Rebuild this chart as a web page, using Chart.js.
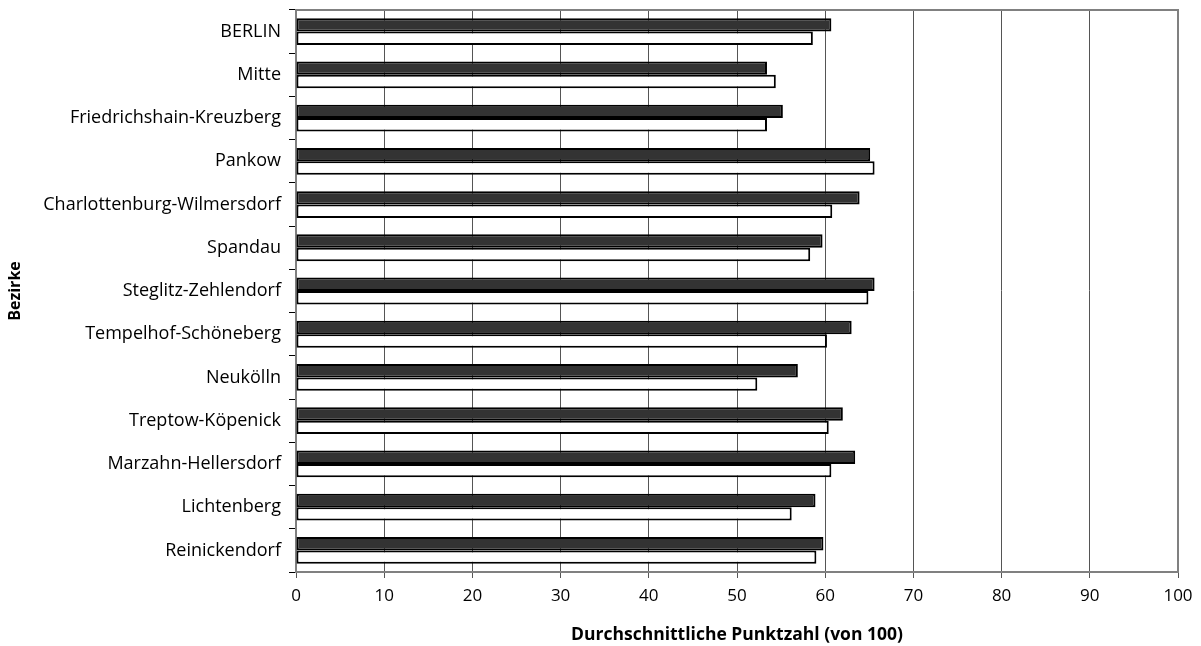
<!DOCTYPE html>
<html lang="de">
<head>
  <meta charset="UTF-8" />
  <title>Bezirke – Durchschnittliche Punktzahl</title>
  <script src="https://cdn.jsdelivr.net/npm/chart.js"></script>
  <style>
    html, body { margin: 0; padding: 0; background: #fff; }
    #wrap { width: 1201px; height: 646px; }
  </style>
</head>
<body>
  <div id="wrap"><canvas id="chart"></canvas></div>

  <script>
    const bezirke = [
      "BERLIN", "Mitte", "Friedrichshain-Kreuzberg", "Pankow",
      "Charlottenburg-Wilmersdorf", "Spandau", "Steglitz-Zehlendorf",
      "Tempelhof-Schöneberg", "Neukölln", "Treptow-Köpenick",
      "Marzahn-Hellersdorf", "Lichtenberg", "Reinickendorf"
    ];
    const serieDunkel = [60.7, 53.4, 55.2, 65.1, 63.9, 59.7, 65.6, 63.0, 56.9, 62.0, 63.4, 58.9, 59.8];
    const serieHell   = [58.6, 54.4, 53.4, 65.6, 60.8, 58.3, 64.9, 60.2, 52.3, 60.4, 60.7, 56.2, 59.0];
    const xTicks = [0, 10, 20, 30, 40, 50, 60, 70, 80, 90, 100];

    const font = "'Open Sans', 'Noto Sans', sans-serif";

    // Rahmen oben und rechts um die Zeichenfläche
    const rahmen = {
      id: "rahmen",
      afterDraw(chart) {
        const { ctx, chartArea: a } = chart;
        ctx.save();
        ctx.strokeStyle = "#808080";
        ctx.lineWidth = 2;
        ctx.beginPath();
        ctx.moveTo(a.left, a.top);
        ctx.lineTo(a.right, a.top);
        ctx.lineTo(a.right, a.bottom);
        ctx.stroke();
        ctx.restore();
      }
    };

    const ctx = document.getElementById("chart").getContext("2d");
    new Chart(ctx, {
      type: "bar",
      data: {
        labels: bezirke,
        datasets: [
          {
            label: "Reihe 1",
            data: serieDunkel,
            backgroundColor: "#333333",
            borderColor: "#000000",
            borderWidth: 2,
            borderSkipped: false
          },
          {
            label: "Reihe 2",
            data: serieHell,
            backgroundColor: "#ffffff",
            borderColor: "#000000",
            borderWidth: 2,
            borderSkipped: false
          }
        ]
      },
      options: {
        indexAxis: "y",
        responsive: true,
        maintainAspectRatio: false,
        animation: false,
        layout: { padding: { top: 10, right: 23, left: 6, bottom: 0 } },
        datasets: { bar: { categoryPercentage: 0.62, barPercentage: 1.0 } },
        plugins: {
          legend: { display: false },
          tooltip: { enabled: false }
        },
        scales: {
          x: {
            min: 0,
            max: 100,
            afterBuildTicks(scale) {
              scale.ticks = xTicks.map(v => ({ value: v }));
            },
            afterFit(scale) {
              scale.height = 74;
              scale.paddingLeft = 0;
              scale.paddingRight = 0;
            },
            grid: {
              color: "#555555",
              lineWidth: 1,
              tickLength: 6,
              drawTicks: true
            },
            border: { color: "#808080", width: 2 },
            ticks: {
              color: "#000",
              font: { family: font, size: 17 },
              padding: 8,
              maxRotation: 0
            },
            title: {
              display: true,
              text: "Durchschnittliche Punktzahl (von 100)",
              color: "#000",
              font: { family: font, size: 17.5, weight: "bold" },
              padding: { top: 8, bottom: 0 }
            }
          },
          y: {
            afterFit(scale) {
              scale.width = 290;
              scale.paddingTop = 0;
              scale.paddingBottom = 0;
            },
            grid: {
              offset: true,
              drawOnChartArea: false,
              color: "#000",
              tickLength: 7
            },
            border: { color: "#808080", width: 2 },
            ticks: {
              color: "#000",
              font: { family: font, size: 18 },
              padding: 8
            },
            title: {
              display: true,
              text: "Bezirke",
              color: "#000",
              font: { family: font, size: 16, weight: "bold" },
              padding: { top: 0, bottom: 4 }
            }
          }
        }
      },
      plugins: [rahmen]
    });
  </script>
</body>
</html>
